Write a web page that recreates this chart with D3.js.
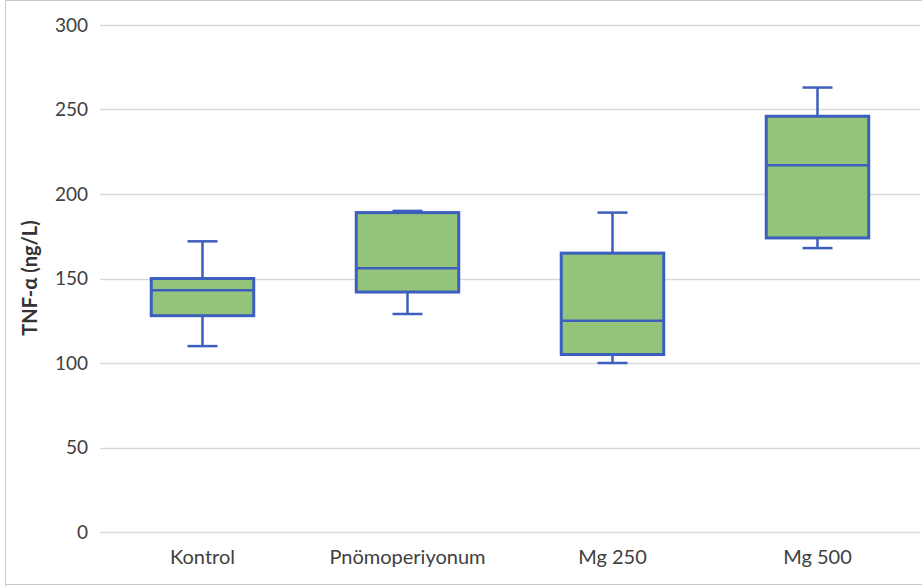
<!DOCTYPE html>
<html><head><meta charset="utf-8">
<script src="https://cdn.jsdelivr.net/npm/d3@7"></script>
<style>body{margin:0;background:#fff}svg{display:block}</style>
</head><body>
<svg id="c" width="922" height="586"></svg>
<script>
const categories = ["Kontrol", "Pnömoperiyonum", "Mg 250", "Mg 500"];
const whiskerLow = [110, 129, 100, 168];
const q1 = [128, 142, 105, 174];
const median = [143, 156, 125, 217];
const q3 = [150, 189, 165, 246];
const whiskerHigh = [172, 190, 189, 263];
const yTicks = [0, 50, 100, 150, 200, 250, 300];
const yLabel = "TNF-α (ng/L)";

const svg = d3.select("#c");
const font = "Lato, 'Open Sans', sans-serif";
const m = {left: 100, right: 920, top: 25, bottom: 532};

// outer frame
svg.append("path").attr("d", "M5.5,586 L5.5,0.5 L922,0.5").attr("fill","none").attr("stroke","#c8c8c8").attr("stroke-width",1);
svg.append("line").attr("x1",5).attr("x2",922).attr("y1",584.5).attr("y2",584.5).attr("stroke","#c8c8c8");

const x = d3.scaleBand().domain(categories).range([m.left, m.right]).paddingInner(0).paddingOuter(0);
const y = d3.scaleLinear().domain([0, 300]).range([m.bottom, m.top]);

// gridlines
svg.append("g").selectAll("line").data(yTicks).join("line")
  .attr("x1", m.left).attr("x2", m.right)
  .attr("y1", d => Math.round(y(d)) + 0.5).attr("y2", d => Math.round(y(d)) + 0.5)
  .attr("stroke", "#d9d9d9").attr("stroke-width", 1.5);

// y axis tick labels
const yAxis = d3.axisLeft(y).tickValues(yTicks).tickSize(0).tickPadding(12);
const gy = svg.append("g").attr("transform", `translate(${m.left},0)`).call(yAxis);
gy.select(".domain").remove();
gy.selectAll("text").attr("font-family", font).attr("font-size", 19).attr("fill", "#404040");

// x axis labels
const xAxis = d3.axisBottom(x).tickSize(0).tickPadding(18);
const gx = svg.append("g").attr("transform", `translate(0,${m.bottom})`).call(xAxis);
gx.select(".domain").remove();
gx.selectAll("text").attr("font-family", font).attr("font-size", 20).attr("fill", "#404040");

// y label
svg.append("text").attr("transform", `translate(37,278) rotate(-90)`)
  .attr("text-anchor","middle").attr("font-family", font).attr("font-size", 20)
  .attr("font-weight","bold").attr("fill","#333").text(yLabel);

const stroke = "#3c5fbd", fill = "#93c47a";
const boxW = x.bandwidth() * 0.5, capW = 30;
const g = svg.append("g");
categories.forEach((c, i) => {
  const cx = x(c) + x.bandwidth()/2;
  const gg = g.append("g");
  gg.append("line").attr("x1",cx).attr("x2",cx).attr("y1",y(whiskerHigh[i])).attr("y2",y(q3[i])).attr("stroke",stroke).attr("stroke-width",2.5);
  gg.append("line").attr("x1",cx).attr("x2",cx).attr("y1",y(q1[i])).attr("y2",y(whiskerLow[i])).attr("stroke",stroke).attr("stroke-width",2.5);
  gg.append("line").attr("x1",cx-capW/2).attr("x2",cx+capW/2).attr("y1",y(whiskerHigh[i])).attr("y2",y(whiskerHigh[i])).attr("stroke",stroke).attr("stroke-width",2.5);
  gg.append("line").attr("x1",cx-capW/2).attr("x2",cx+capW/2).attr("y1",y(whiskerLow[i])).attr("y2",y(whiskerLow[i])).attr("stroke",stroke).attr("stroke-width",2.5);
  gg.append("rect").attr("x",cx-boxW/2).attr("width",boxW).attr("y",y(q3[i])).attr("height",y(q1[i])-y(q3[i]))
    .attr("fill",fill).attr("stroke",stroke).attr("stroke-width",3);
  gg.append("line").attr("x1",cx-boxW/2).attr("x2",cx+boxW/2).attr("y1",y(median[i])).attr("y2",y(median[i])).attr("stroke",stroke).attr("stroke-width",2.5);
});
</script>
</body></html>
